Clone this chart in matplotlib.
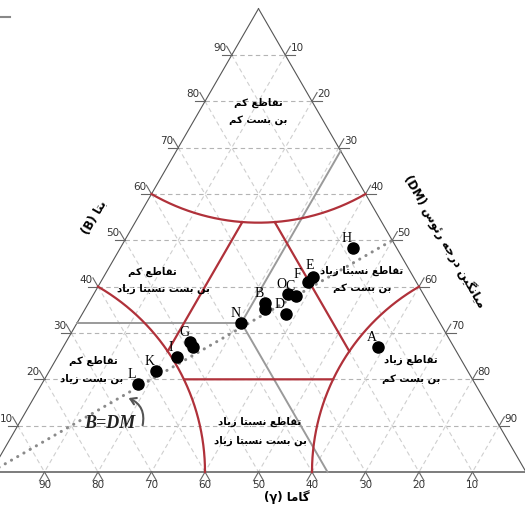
import numpy as np
import matplotlib
matplotlib.use("Agg")
import matplotlib.pyplot as plt
from matplotlib.patches import FancyArrowPatch
from matplotlib.lines import Line2D

# ---- sample points (percent): beta, gamma, mean vertex degree ----
point_names = ["H", "E", "F", "O", "C", "D", "B", "", "N", "G", "", "I", "K", "L", "A"]
beta_vals   = [48.3, 42.1, 41.0, 38.4, 37.9, 34.1, 36.4, 35.1, 32.2, 28.1, 27.0, 24.8, 21.8, 19.0, 27.0]
gamma_vals  = [8.2, 18.8, 20.3, 25.3, 24.0, 27.9, 30.6, 31.3, 37.1, 48.7, 48.8, 52.8, 58.3, 63.0, 14.2]
dm_vals     = [43.5, 39.1, 38.7, 36.3, 38.1, 38.0, 33.0, 33.6, 30.7, 23.2, 24.2, 22.4, 19.9, 18.0, 58.8]

grid_ticks = [10, 20, 30, 40, 50, 60, 70, 80, 90]
zone_radius = 40       # percent of side, around each corner
inner_cut = 20         # beta / gamma / DM separating lines

# ---- simple Persian shaping (presentation forms, visual order) ----
FORMS = {
    'ا': (0xFE8D, 0xFE8E, None, None), 'ب': (0xFE8F, 0xFE90, 0xFE91, 0xFE92),
    'ت': (0xFE95, 0xFE96, 0xFE97, 0xFE98), 'ج': (0xFE9D, 0xFE9E, 0xFE9F, 0xFEA0),
    'د': (0xFEA9, 0xFEAA, None, None), 'ر': (0xFEAD, 0xFEAE, None, None),
    'ز': (0xFEAF, 0xFEB0, None, None), 'س': (0xFEB1, 0xFEB2, 0xFEB3, 0xFEB4),
    'ط': (0xFEC1, 0xFEC2, 0xFEC3, 0xFEC4), 'ع': (0xFEC9, 0xFECA, 0xFECB, 0xFECC),
    'ق': (0xFED5, 0xFED6, 0xFED7, 0xFED8), 'م': (0xFEE1, 0xFEE2, 0xFEE3, 0xFEE4),
    'ن': (0xFEE5, 0xFEE6, 0xFEE7, 0xFEE8), 'ه': (0xFEE9, 0xFEEA, 0xFEEB, 0xFEEC),
    'و': (0xFEED, 0xFEEE, None, None), 'ئ': (0xFE89, 0xFE8A, 0xFE8B, 0xFE8C),
    'ی': (0xFBFC, 0xFBFD, 0xFBFE, 0xFBFF), 'ک': (0xFB8E, 0xFB8F, 0xFB90, 0xFB91),
    'گ': (0xFB92, 0xFB93, 0xFB94, 0xFB95),
}


def fa(text):
    out = []
    n = len(text)
    for i, ch in enumerate(text):
        f = FORMS.get(ch)
        if f is None:
            out.append(ch)
            continue
        prev = text[i - 1] if i > 0 else ''
        nxt = text[i + 1] if i < n - 1 else ''
        jp = prev in FORMS and FORMS[prev][2] is not None
        jn = f[2] is not None and nxt in FORMS
        if jp and jn:
            c = f[3]
        elif jp:
            c = f[1]
        elif jn:
            c = f[2]
        else:
            c = f[0]
        out.append(chr(c))
    return ''.join(reversed(out))


def tern(b, g, d):
    """ternary (beta top, gamma bottom-left, DM bottom-right) -> cartesian, side 1"""
    b = np.asarray(b, float) / 100.0
    d = np.asarray(d, float) / 100.0
    return d + b / 2.0, b * np.sqrt(3) / 2.0


def px(x, y):
    """figure pixel position -> cartesian (for text placement)"""
    return (x + 9) / 535.0, (472 - y) / 535.0


fig = plt.figure(figsize=(5.25, 5.08), dpi=100)
ax = fig.add_axes([0, 0, 1, 1])
ax.set_xlim(px(0, 0)[0], px(525, 0)[0])
ax.set_ylim(px(0, 508)[1], px(0, 0)[1])
ax.set_aspect('equal')
ax.axis('off')

# ---- grid ----
for v in grid_ticks:
    w = 100 - v
    x, y = tern([v, v], [w, 0], [0, w])        # constant beta
    ax.plot(x, y, ls=(0, (4, 3)), color='#b4b4b4', lw=0.8, zorder=1)
    x, y = tern([w, 0], [v, v], [0, w])        # constant gamma
    ax.plot(x, y, ls=(0, (4, 3)), color='#cfcfcf', lw=0.8, zorder=1)
    x, y = tern([w, 0], [0, w], [v, v])        # constant DM
    ax.plot(x, y, ls=(0, (4, 3)), color='#cfcfcf', lw=0.8, zorder=1)

# ---- triangle frame ----
x, y = tern([100, 0], [0, 100], [0, 0])
ax.plot(x, y, color='#555555', lw=0.8, zorder=2)
x, y = tern([100, 0], [0, 0], [0, 100])
ax.plot(x, y, color='#555555', lw=0.8, zorder=2)
x, y = tern([0, 0], [100, 0], [0, 100])
ax.plot(x, y, color='#666666', lw=1.2, zorder=2)

# ---- ticks and tick labels ----
tl = 1.9  # tick extension, percent
tick_kw = dict(color='#666666', lw=0.8, zorder=2)
lab_kw = dict(fontsize=7.5, color='#333333', ha='center', va='center')
for v in grid_ticks:
    # left edge: beta
    x0, y0 = tern(v, 100 - v, 0)
    x1, y1 = tern(v, 100 - v + tl, -tl)
    x2, y2 = tern(v + tl, 100 - v, -tl)
    ax.plot([x0, x1], [y0, y1], **tick_kw)
    ax.plot([x0, x2], [y0, y2], **tick_kw)
    ax.annotate(str(v), (x0, y0), xytext=(-8.5, 5), textcoords='offset points', **lab_kw)
    # right edge: DM
    x0, y0 = tern(100 - v, 0, v)
    x1, y1 = tern(100 - v, -tl, v + tl)
    x2, y2 = tern(100 - v + tl, -tl, v)
    ax.plot([x0, x1], [y0, y1], **tick_kw)
    ax.plot([x0, x2], [y0, y2], **tick_kw)
    ax.annotate(str(v), (x0, y0), xytext=(8.5, 5), textcoords='offset points', **lab_kw)
    # bottom: gamma
    x0, y0 = tern(0, v, 100 - v)
    x1, y1 = tern(-tl, v + tl, 100 - v)
    x2, y2 = tern(-tl, v, 100 - v + tl)
    ax.plot([x0, x1], [y0, y1], **tick_kw)
    ax.plot([x0, x2], [y0, y2], **tick_kw)
    ax.annotate(str(v), (x0, y0), xytext=(0, -9), textcoords='offset points', **lab_kw)

# ---- red zone boundaries ----
red = '#b0313a'
corners = [tern(100, 0, 0), tern(0, 100, 0), tern(0, 0, 100)]
arc_ranges = [(240, 300), (0, 60), (120, 180)]
r = zone_radius / 100.0
for (cx, cy), (a0, a1) in zip(corners, arc_ranges):
    th = np.radians(np.linspace(a0, a1, 200))
    ax.plot(cx + r * np.cos(th), cy + r * np.sin(th), color=red, lw=1.6, zorder=3)

t = np.linspace(0, 100 - inner_cut, 3000)
for bb, gg, dd in [(t, 100 - inner_cut - t, np.full_like(t, inner_cut)),
                   (t, np.full_like(t, inner_cut), 100 - inner_cut - t),
                   (np.full_like(t, inner_cut), t, 100 - inner_cut - t)]:
    x, y = tern(bb, gg, dd)
    dist = np.min([np.hypot(x - cx, y - cy) for cx, cy in corners], axis=0)
    x = np.where(dist >= r, x, np.nan)
    ax.plot(x, y, color=red, lw=1.6, zorder=3)

# ---- gray guide lines through N ----
nb, ng, nd = beta_vals[8], gamma_vals[8], dm_vals[8]
gray = '#9a9a9a'
x, y = tern([nb, nb], [100 - nb, ng], [0, nd]); ax.plot(x, y, color=gray, lw=1.4, zorder=2.5)
x, y = tern([nb, 100 - nd], [ng, 0], [nd, nd]); ax.plot(x, y, color=gray, lw=1.4, zorder=2.5)
x, y = tern([nb, 0], [ng, ng], [nd, 100 - ng]); ax.plot(x, y, color=gray, lw=1.4, zorder=2.5)

# ---- B = DM line ----
s = np.linspace(0, 50, 2)
x, y = tern(s, 100 - 2 * s, s)
ax.plot(x, y, color='#8a8a8a', lw=2.2, ls=(0, (0.05, 2.3)), dash_capstyle='round', zorder=3.5)

# ---- points ----
label_shift = {"E": (-2.0, 8.5), "F": (-7.5, 5.5)}
x, y = tern(beta_vals, gamma_vals, dm_vals)
ax.plot(x, y, 'o', color='black', ms=8, zorder=5, ls='none')
for name, xi, yi in zip(point_names, x, y):
    if name:
        ax.annotate(name, (xi, yi), xytext=label_shift.get(name, (-4.5, 6.8)),
                    textcoords='offset points', fontsize=10, family='Liberation Serif',
                    ha='center', va='center', zorder=4)

# ---- zone names ----
zkw = dict(fontsize=7.3, fontweight='bold', family='DejaVu Sans', ha='center', va='center', zorder=6)
zones = [
    ((258, 103), 'تقاطع کم', (258, 120), 'بن بست کم'),
    ((152, 272), 'تقاطع کم', (163, 289), 'بن بست نسبتا زیاد'),
    ((362, 271), 'تقاطع نسبتا زیاد', (362, 288), 'بن بست کم'),
    ((93, 361), 'تقاطع کم', (92, 379), 'بن بست زیاد'),
    ((411, 360), 'تقاطع زیاد', (411, 379), 'بن بست کم'),
    ((260, 422), 'تقاطع نسبتا زیاد', (260, 441), 'بن بست نسبتا زیاد'),
]
for p1, s1, p2, s2 in zones:
    ax.text(*px(*p1), fa(s1), **zkw)
    ax.text(*px(*p2), fa(s2), **zkw)

# ---- axis titles ----
tkw = dict(fontweight='bold', family='DejaVu Sans', ha='center', va='center', fontsize=8.5)
ax.text(*px(94, 217), '(B) ' + fa('بتا'), rotation=60, rotation_mode='anchor', **tkw)
ax.text(*px(444, 242), '(DM) ' + fa('میانگین درجه رئوس'), rotation=-60, rotation_mode='anchor', **tkw)
ax.text(*px(287, 497), '(γ) ' + fa('گاما'), **tkw)

# ---- B=DM note with arrow ----
ax.text(*px(110, 424), 'B=DM', fontsize=13, style='italic', fontweight='bold',
        family='Liberation Serif', ha='center', va='center', color='#222222')
arr = FancyArrowPatch(px(142, 428), px(126, 397), connectionstyle='arc3,rad=0.45',
                      arrowstyle='->,head_length=4,head_width=2.5', color='#555555', lw=1.5, zorder=6)
ax.add_patch(arr)

fig.add_artist(Line2D([0, 10 / 525], [1 - 17 / 508, 1 - 17 / 508], color='#888888', lw=1.5))

fig.savefig('out.png', dpi=100)
